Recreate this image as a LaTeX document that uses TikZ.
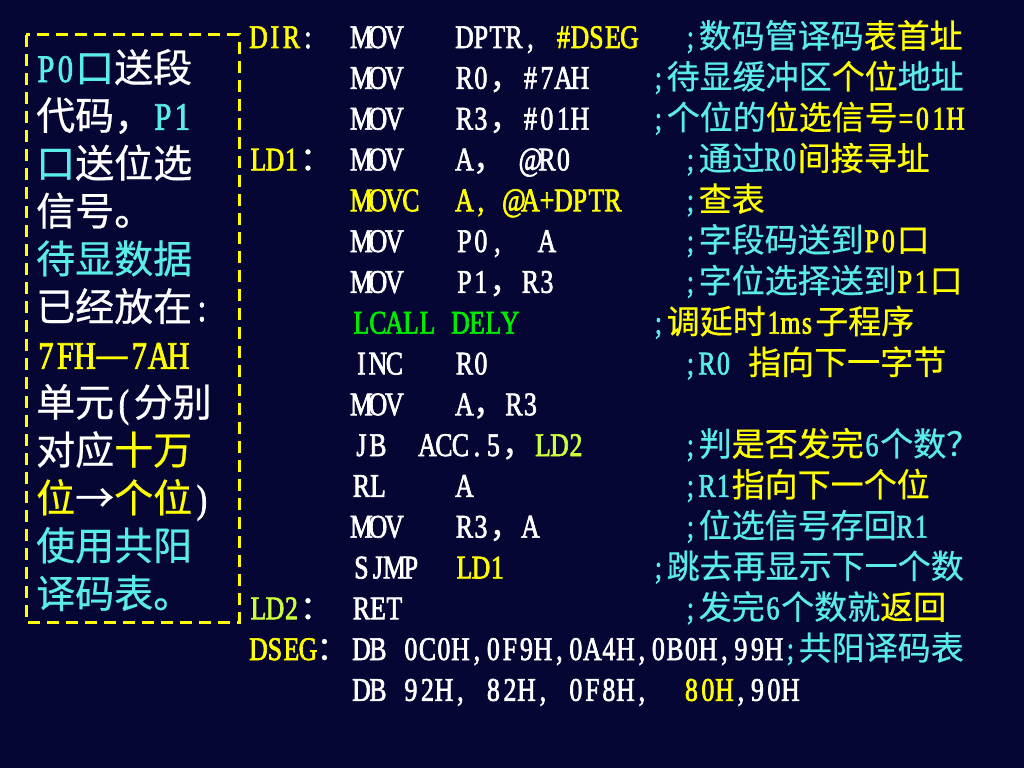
\documentclass[tikz,border=0pt]{standalone}
\usepackage{fontspec}
\setmainfont{Liberation Serif}[FakeStretch=0.78,FakeBold=2]
\newfontfamily\cjk{Noto Sans CJK SC}[FakeBold=0.6]
\definecolor{slideBg}{RGB}{6,6,52}
\definecolor{cmtCyan}{RGB}{90,235,235}
\definecolor{hiYellow}{RGB}{255,255,0}
\definecolor{callGreen}{RGB}{0,235,0}
\definecolor{jumpLime}{RGB}{205,255,60}
\newcommand{\zh}[1]{{\cjk #1}}
\newcommand{\cy}[1]{\textcolor{cmtCyan}{#1}}
\newcommand{\yl}[1]{\textcolor{hiYellow}{#1}}
% half-width cells, one per character
\def\monoEnd{monoEnd}
\def\monoW{16.5pt}
\newcommand{\mono}[1]{\monoStep#1\monoEnd}
\newcommand{\monoStep}[1]{\ifx\monoEnd#1\else\makebox[\monoW]{#1}\expandafter\monoStep\fi}

\begin{document}
\begin{tikzpicture}[x=1pt,y=-1pt,
  code/.style={anchor=base west,inner sep=0pt,text=white,font={\fontsize{33}{36}\selectfont\def\monoW{16.5pt}}},
  note/.style={anchor=base west,inner sep=0pt,text=white,font={\fontsize{39}{42}\selectfont\def\monoW{19.5pt}}}]
	\newcommand{\rowBase}{48}
	\newcommand{\rowPitch}{40.8}
	\newcommand{\noteBase}{82}
	\newcommand{\notePitch}{47.8}
	\newcommand{\colLabel}{250}
	\newcommand{\colMn}{353}
	\newcommand{\colOp}{456}
	\newcommand{\colCmt}{682}
	\newcommand{\colCmtWide}{650}

	% background and frame
	\fill[slideBg] (0,0) rectangle (1024,768);
	\draw[hiYellow,line width=3pt,dash pattern=on 12pt off 7pt] (26,35) rectangle (239,622);

	% notes in the frame
	\node[note] (note_1) at (36,\noteBase) {\cy{\mono{P0}\zh{口}}\zh{送段}};
	\node[note] (note_2) at (36,\noteBase+1*\notePitch) {\zh{代码，}\cy{\mono{P1}}};
	\node[note] (note_3) at (36,\noteBase+2*\notePitch) {\cy{\zh{口}}\zh{送位选}};
	\node[note] (note_4) at (36,\noteBase+3*\notePitch) {\zh{信号。}};
	\node[note] (note_5) at (36,\noteBase+4*\notePitch) {\cy{\zh{待显数据}}};
	\node[note] (note_6) at (36,\noteBase+5*\notePitch) {\zh{已经放在}\mono{:}};
	\node[note] (note_7) at (36,\noteBase+6*\notePitch) {\yl{\mono{7FH}\zh{—}\mono{7AH}}};
	\node[note] (note_8) at (36,\noteBase+7*\notePitch) {\zh{单元}\mono{(}\zh{分别}};
	\node[note] (note_9) at (36,\noteBase+8*\notePitch) {\zh{对应}\yl{\zh{十万}}};
	\node[note] (note_10) at (36,\noteBase+9*\notePitch) {\yl{\zh{位}}\zh{→}\yl{\zh{个位}}\mono{)}};
	\node[note] (note_11) at (36,\noteBase+10*\notePitch) {\cy{\zh{使用共阳}}};
	\node[note] (note_12) at (36,\noteBase+11*\notePitch) {\cy{\zh{译码表。}}};

	% labels
	\node[code] (lbl_dir) at (\colLabel,\rowBase) {\yl{\mono{DIR}}\mono{:}};
	\node[code] (lbl_ld1) at (\colLabel,\rowBase+3*\rowPitch) {\yl{\mono{LD1}}\zh{：}};
	\node[code] (lbl_ld2) at (\colLabel,\rowBase+14*\rowPitch) {\textcolor{jumpLime}{\mono{LD2}}\zh{：}};
	\node[code] (lbl_dseg) at (\colLabel,\rowBase+15*\rowPitch) {\yl{\mono{DSEG}}\zh{：}};

	% instructions
	\node[code] (mn_0) at (\colMn,\rowBase) {\mono{MOV}};
	\node[code] (op_0) at (\colOp,\rowBase) {\mono{DPTR,~}\yl{\mono{\#DSEG}}};
	\node[code] (cmt_0) at (\colCmt,\rowBase) {\cy{\mono{;}\zh{数码管译码}}\yl{\zh{表首址}}};

	\node[code] (mn_1) at (\colMn,\rowBase+1*\rowPitch) {\mono{MOV}};
	\node[code] (op_1) at (\colOp,\rowBase+1*\rowPitch) {\mono{R0}\zh{，}\mono{\#7AH}};
	\node[code] (cmt_1) at (\colCmtWide,\rowBase+1*\rowPitch) {\cy{\mono{;}\zh{待显缓冲区}}\yl{\zh{个位}}\cy{\zh{地址}}};

	\node[code] (mn_2) at (\colMn,\rowBase+2*\rowPitch) {\mono{MOV}};
	\node[code] (op_2) at (\colOp,\rowBase+2*\rowPitch) {\mono{R3}\zh{，}\mono{\#01H}};
	\node[code] (cmt_2) at (\colCmtWide,\rowBase+2*\rowPitch) {\cy{\mono{;}\zh{个位的}}\yl{\zh{位选信号}\mono{=01H}}};

	\node[code] (mn_3) at (\colMn,\rowBase+3*\rowPitch) {\mono{MOV}};
	\node[code] (op_3) at (\colOp,\rowBase+3*\rowPitch) {\mono{A}\zh{，}\mono{~@R0}};
	\node[code] (cmt_3) at (\colCmt,\rowBase+3*\rowPitch) {\cy{\mono{;}\zh{通过}\mono{R0}}\yl{\zh{间接寻址}}};

	\node[code,text=hiYellow] (mn_4) at (\colMn,\rowBase+4*\rowPitch) {\mono{MOVC}};
	\node[code,text=hiYellow] (op_4) at (\colOp,\rowBase+4*\rowPitch) {\mono{A,~@A+DPTR}};
	\node[code] (cmt_4) at (\colCmt,\rowBase+4*\rowPitch) {\cy{\mono{;}}\yl{\zh{查表}}};

	\node[code] (mn_5) at (\colMn,\rowBase+5*\rowPitch) {\mono{MOV}};
	\node[code] (op_5) at (\colOp,\rowBase+5*\rowPitch) {\mono{P0,~~A}};
	\node[code] (cmt_5) at (\colCmt,\rowBase+5*\rowPitch) {\cy{\mono{;}\zh{字段码送到}}\yl{\mono{P0}\zh{口}}};

	\node[code] (mn_6) at (\colMn,\rowBase+6*\rowPitch) {\mono{MOV}};
	\node[code] (op_6) at (\colOp,\rowBase+6*\rowPitch) {\mono{P1}\zh{，}\mono{R3}};
	\node[code] (cmt_6) at (\colCmt,\rowBase+6*\rowPitch) {\cy{\mono{;}\zh{字位选择送到}}\yl{\mono{P1}\zh{口}}};

	\node[code,text=callGreen] (mn_7) at (\colMn,\rowBase+7*\rowPitch) {\mono{LCALL~DELY}};
	\node[code] (cmt_7) at (\colCmtWide,\rowBase+7*\rowPitch) {\cy{\mono{;}}\yl{\zh{调延时}\mono{1ms}\zh{子程序}}};

	\node[code] (mn_8) at (\colMn,\rowBase+8*\rowPitch) {\mono{INC}};
	\node[code] (op_8) at (\colOp,\rowBase+8*\rowPitch) {\mono{R0}};
	\node[code] (cmt_8) at (\colCmt,\rowBase+8*\rowPitch) {\cy{\mono{;R0~}}\yl{\zh{指向下一字节}}};

	\node[code] (mn_9) at (\colMn,\rowBase+9*\rowPitch) {\mono{MOV}};
	\node[code] (op_9) at (\colOp,\rowBase+9*\rowPitch) {\mono{A}\zh{，}\mono{R3}};

	\node[code] (mn_10) at (\colMn,\rowBase+10*\rowPitch) {\mono{JB~~ACC.5}\zh{，}\textcolor{jumpLime}{\mono{LD2}}};
	\node[code] (cmt_10) at (\colCmt,\rowBase+10*\rowPitch) {\cy{\mono{;}\zh{判}}\yl{\zh{是否发完}}\cy{\mono{6}\zh{个数？}}};

	\node[code] (mn_11) at (\colMn,\rowBase+11*\rowPitch) {\mono{RL}};
	\node[code] (op_11) at (\colOp,\rowBase+11*\rowPitch) {\mono{A}};
	\node[code] (cmt_11) at (\colCmt,\rowBase+11*\rowPitch) {\cy{\mono{;R1}}\yl{\zh{指向下一个位}}};

	\node[code] (mn_12) at (\colMn,\rowBase+12*\rowPitch) {\mono{MOV}};
	\node[code] (op_12) at (\colOp,\rowBase+12*\rowPitch) {\mono{R3}\zh{，}\mono{A}};
	\node[code] (cmt_12) at (\colCmt,\rowBase+12*\rowPitch) {\cy{\mono{;}\zh{位选信号存回}\mono{R1}}};

	\node[code] (mn_13) at (\colMn,\rowBase+13*\rowPitch) {\mono{SJMP}};
	\node[code,text=hiYellow] (op_13) at (\colOp,\rowBase+13*\rowPitch) {\mono{LD1}};
	\node[code] (cmt_13) at (\colCmtWide,\rowBase+13*\rowPitch) {\cy{\mono{;}\zh{跳去再显示下一个数}}};

	\node[code] (mn_14) at (\colMn,\rowBase+14*\rowPitch) {\mono{RET}};
	\node[code] (cmt_14) at (\colCmt,\rowBase+14*\rowPitch) {\cy{\mono{;}\zh{发完}\mono{6}\zh{个数就}}\yl{\zh{返回}}};

	% code table
	\node[code] (db_1) at (\colMn,\rowBase+15*\rowPitch) {\mono{DB~0C0H,0F9H,0A4H,0B0H,99H}\cy{\mono{;}\zh{共阳译码表}}};
	\node[code] (db_2) at (\colMn,\rowBase+16*\rowPitch) {\mono{DB~92H,~82H,~0F8H,~~}\yl{\mono{80H}}\mono{,90H}};
\end{tikzpicture}
\end{document}
